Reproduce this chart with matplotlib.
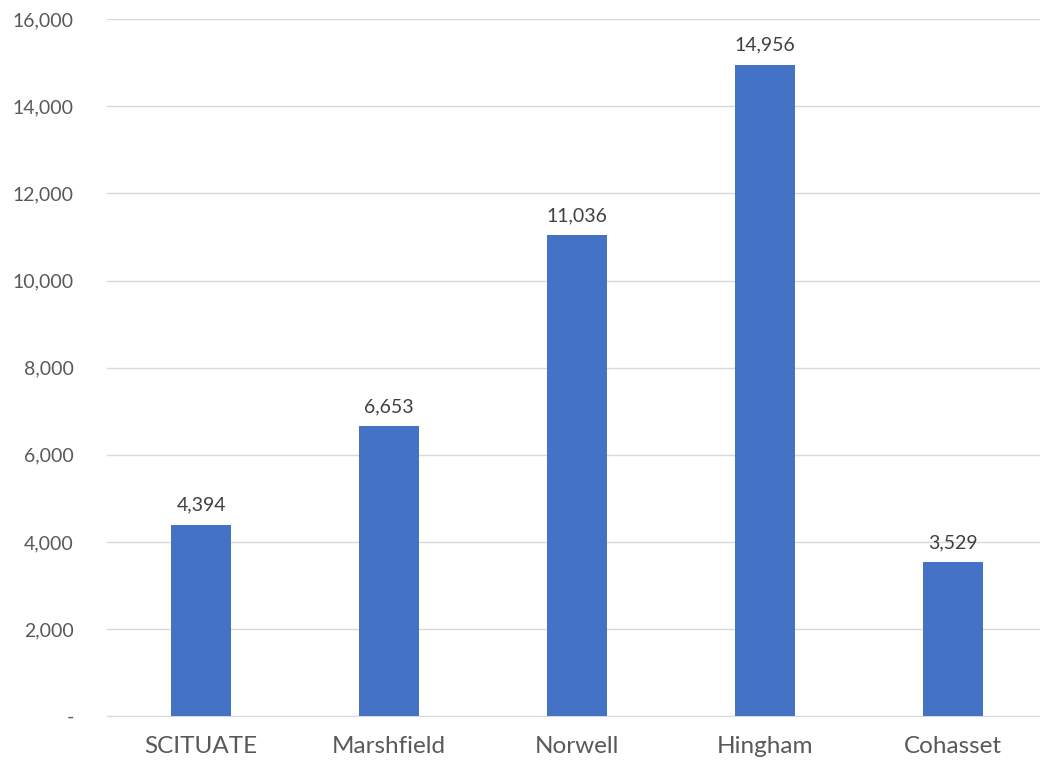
import matplotlib
matplotlib.use("Agg")
import matplotlib.pyplot as plt
from matplotlib.ticker import FuncFormatter

towns = ["SCITUATE", "Marshfield", "Norwell", "Hingham", "Cohasset"]
values = [4394, 6653, 11036, 14956, 3529]
yticks = [0, 2000, 4000, 6000, 8000, 10000, 12000, 14000, 16000]

plt.rcParams['font.family'] = ['Lato', 'DejaVu Sans']

fig = plt.figure(figsize=(10.4, 7.7), dpi=100)
ax = fig.add_axes([0.103, 0.070, 0.904, 0.905])

bars = ax.bar(range(len(towns)), values, width=0.32, color="#4472C4", zorder=3)
for i, v in enumerate(values):
    ax.text(i, v + 250, f"{v:,}", ha="center", va="bottom", fontsize=14, color="#404040")

ax.set_xlim(-0.5, len(towns) - 0.5)
ax.set_ylim(0, 16000)
ax.set_yticks(yticks)
ax.yaxis.set_major_formatter(FuncFormatter(lambda y, _: "-" if y == 0 else f"{int(y):,}"))
ax.set_xticks(range(len(towns)))
ax.set_xticklabels(towns)
ax.tick_params(axis="y", length=0, pad=24, labelsize=14, labelcolor="#595959")
ax.tick_params(axis="x", length=0, pad=14, labelsize=17.5, labelcolor="#595959")

ax.grid(axis="y", color="#D9D9D9", linewidth=1, zorder=0)
for side in ["top", "right", "left"]:
    ax.spines[side].set_visible(False)
ax.spines["bottom"].set_color("#D9D9D9")

fig.savefig("out.png", dpi=100, facecolor="white")
